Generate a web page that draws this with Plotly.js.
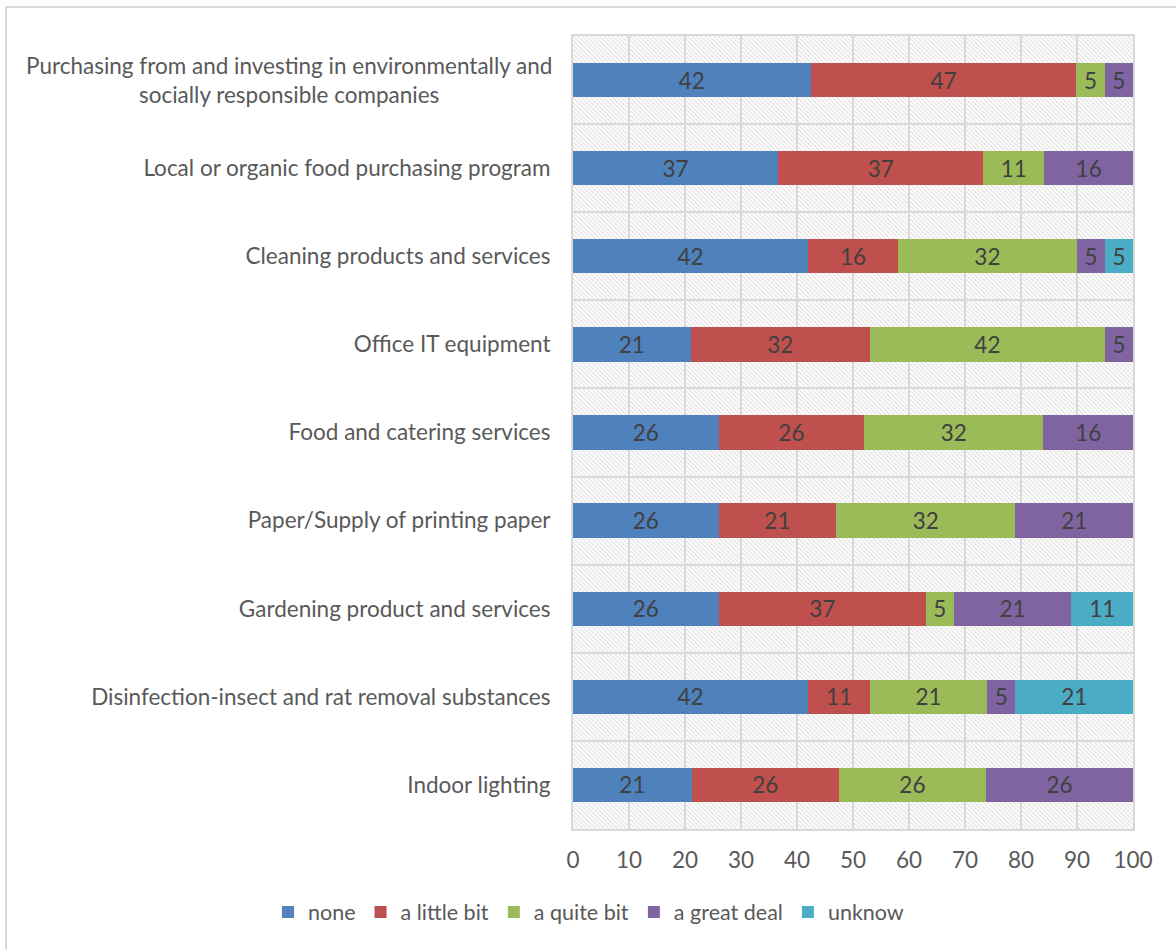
<!DOCTYPE html>
<html>
<head>
<meta charset="utf-8">
<script src="https://cdn.plot.ly/plotly-3.0.1.min.js"></script>
<style>
html,body{margin:0;padding:0;background:#fff;}
#chart{width:1176px;height:950px;}
</style>
</head>
<body>
<div id="chart"></div>
<script>
// Categories, top to bottom as in the reference
const categories = [
  "Purchasing from and investing in environmentally and<br>socially responsible companies",
  "Local or organic food purchasing program",
  "Cleaning products and services",
  "Office IT equipment",
  "Food and catering services",
  "Paper/Supply of printing paper",
  "Gardening product and services",
  "Disinfection-insect and rat removal substances",
  "Indoor lighting"
];
const seriesNames = ["none", "a little bit", "a quite bit", "a great deal", "unknow"];
const none        = [42, 37, 42, 21, 26, 26, 26, 42, 21];
const aLittleBit  = [47, 37, 16, 32, 26, 21, 37, 11, 26];
const aQuiteBit   = [5, 11, 32, 42, 32, 32, 5, 21, 26];
const aGreatDeal  = [5, 16, 5, 5, 16, 21, 21, 5, 26];
const unknow      = [0, 0, 5, 0, 0, 0, 11, 21, 0];
const xTicks = [0, 10, 20, 30, 40, 50, 60, 70, 80, 90, 100];

const colors = ["#4F81BD", "#C0504D", "#9BBB59", "#8064A2", "#4BACC6"];
const series = [none, aLittleBit, aQuiteBit, aGreatDeal, unknow];
const FONT = "Lato, 'Open Sans', sans-serif";
const FS = 22.5;

const traces = series.map((vals, i) => ({
  type: "bar",
  orientation: "h",
  name: seriesNames[i],
  y: categories,
  x: vals.map(v => v === 0 ? null : v),
  text: vals.map(v => v === 0 ? "" : String(v)),
  texttemplate: "%{text}",
  textposition: "inside",
  insidetextanchor: "middle",
  textangle: 0,
  constraintext: "none",
  textfont: {family: FONT, size: FS, color: "#404040"},
  marker: {color: colors[i], line: {width: 0}},
  hoverinfo: "name+text+y"
}));

const L = 573, R = 43, T = 36, B = 121, W = 1176, H = 950;
const pw = W - L - R, ph = H - T - B;

// hatch background as SVG pattern
const svg = `<svg xmlns="http://www.w3.org/2000/svg" width="${pw}" height="${ph}" viewBox="0 0 ${pw} ${ph}" preserveAspectRatio="none">
<defs><pattern id="p" patternUnits="userSpaceOnUse" width="4.4" height="4.4">
<rect width="4.4" height="4.4" fill="#ffffff"/>
<path d="M-1,-1 L5.4,5.4 M-1,3.4 L1,5.4 M3.4,-1 L5.4,1" stroke="#d8d8d8" stroke-width="0.9"/>
</pattern></defs>
<rect width="${pw}" height="${ph}" fill="url(#p)"/></svg>`;
const hatch = "data:image/svg+xml;base64," + btoa(svg);

const layout = {
  width: W, height: H,
  margin: {l: L, r: R, t: T, b: B, pad: 0},
  paper_bgcolor: "#ffffff",
  plot_bgcolor: "#ffffff",
  barmode: "stack",
  barnorm: "percent",
  bargap: 0.61,
  font: {family: FONT, size: FS, color: "#595959"},
  showlegend: true,
  legend: {
    orientation: "h",
    x: (268 - L) / pw, xanchor: "left",
    y: (T + ph - 912) / ph, yanchor: "middle",
    font: {family: FONT, size: 21.5, color: "#595959"},
    itemwidth: 30,
    tracegroupgap: 0,
    traceorder: "normal"
  },
  xaxis: {
    range: [0, 100],
    tickvals: xTicks,
    ticktext: xTicks.map(String),
    showgrid: true,
    gridcolor: "#d9d9d9",
    gridwidth: 2,
    zeroline: false,
    showline: true,
    linecolor: "#d9d9d9",
    linewidth: 2,
    mirror: true,
    ticks: "",
    ticklabelstandoff: 10,
    tickfont: {family: FONT, size: FS, color: "#595959"},
    fixedrange: true
  },
  yaxis: {
    type: "category",
    autorange: "reversed",
    tickson: "boundaries",
    tickvals: categories,
    ticktext: categories.map((c, i) => i === 0 ? "" : c),
    showgrid: true,
    gridcolor: "#d9d9d9",
    gridwidth: 2,
    showline: true,
    linecolor: "#d9d9d9",
    linewidth: 2,
    mirror: true,
    ticks: "",
    ticklabelstandoff: 16,
    tickfont: {family: FONT, size: FS, color: "#595959"},
    fixedrange: true
  },
  images: [{
    source: hatch,
    xref: "paper", yref: "paper",
    x: 0, y: 1, sizex: 1, sizey: 1,
    xanchor: "left", yanchor: "top",
    sizing: "stretch",
    layer: "below"
  }],
  annotations: [{
    text: categories[0],
    xref: "paper", yref: "y",
    x: 0, y: categories[0],
    xanchor: "right", yanchor: "middle",
    xshift: -19,
    align: "center",
    showarrow: false,
    font: {family: FONT, size: FS, color: "#595959"}
  }],
  shapes: [{
    type: "rect",
    xref: "paper", yref: "paper",
    x0: (6 - L) / pw, x1: (W + 10 - L) / pw,
    y0: (T + ph - (H + 10)) / ph, y1: (T + ph - 7) / ph,
    line: {color: "#d9d9d9", width: 2},
    fillcolor: "rgba(0,0,0,0)",
    layer: "below"
  }]
};

Plotly.newPlot("chart", traces, layout, {displayModeBar: false, staticPlot: true});
</script>
</body>
</html>
